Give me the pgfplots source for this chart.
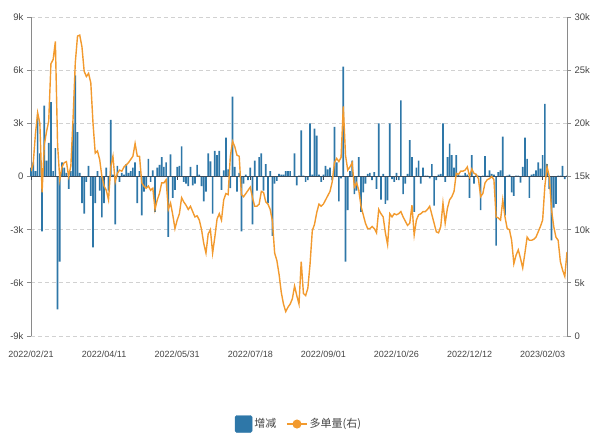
\documentclass[border=0pt]{standalone}
\usepackage{pgfplots}
\pgfplotsset{compat=1.18}
\usepackage{pgfplotstable}
\usepackage{fontspec}
\setmainfont{Liberation Sans}
\newfontfamily\cjk{Noto Sans CJK SC}
\definecolor{barblue}{HTML}{2E77A8}
\definecolor{lineor}{HTML}{F29A2E}
\definecolor{axgray}{HTML}{8A8A8A}
\definecolor{txtgray}{HTML}{444444}
\definecolor{zeroline}{HTML}{3B4A5A}

\pgfplotstableread{
i b l
0 0.5 15.5
1 0.8 16.2
2 0.3 19.0
3 3.5 21.0
4 1.3 20.0
5 -3.1 13.5
6 4.0 18.0
7 0.9 19.2
8 1.9 20.2
9 4.2 25.6
10 0.3 26.0
11 1.6 27.7
12 -7.5 18.0
13 -4.8 14.7
14 0.8 15.9
15 0.5 16.3
16 0.2 16.4
17 -0.7 15.0
18 0.3 16.0
19 3.0 20.5
20 5.7 25.7
21 2.5 28.2
22 0.2 28.3
23 -1.5 27.2
24 -2.1 24.9
25 -0.3 24.4
26 0.6 24.7
27 -1.1 23.8
28 -4.0 20.0
29 -1.5 17.2
30 0.3 17.4
31 -0.8 16.6
32 -2.3 15.0
33 -1.5 14.1
34 0.5 13.7
35 -0.8 12.8
36 3.2 15.9
37 0.1 16.9
38 -2.7 14.5
39 0.6 15.3
40 -0.3 15.6
41 0.2 15.5
42 0.1 15.9
43 0.7 16.1
44 0.2 16.3
45 0.3 16.6
46 0.5 16.9
47 0.8 18.1
48 -1.5 16.9
49 0.3 16.9
50 -2.2 14.4
51 -0.85 14.1
52 -0.6 13.9
53 1.0 14.1
54 -0.3 13.7
55 0.35 13.9
56 -2.0 11.9
57 0.5 12.8
58 0.65 13.4
59 1.1 14.4
60 0.55 14.4
61 0.8 14.7
62 -3.4 11.9
63 1.25 12.5
64 -1.2 11.4
65 -0.75 10.1
66 0.55 10.9
67 0.6 11.5
68 1.7 13.0
69 -0.3 12.6
70 -0.4 12.3
71 -0.55 11.9
72 0.55 12.2
73 -0.5 11.7
74 -0.4 11.2
75 0.65 11.3
76 0.1 10.9
77 -0.55 10.0
78 -1.4 8.7
79 -0.85 7.8
80 1.3 9.6
81 0.85 10.0
82 -2.1 7.8
83 1.45 9.3
84 1.2 11.0
85 1.45 11.5
86 -0.75 10.9
87 0.35 12.8
88 2.2 13.4
89 0.4 13.3
90 -0.65 16.9
91 4.5 18.3
92 0.55 17.8
93 -0.85 17.0
94 0.2 16.9
95 -3.1 13.3
96 -0.4 13.1
97 0.1 13.4
98 -0.2 13.7
99 0.5 14.0
100 -2.7 13.0
101 0.9 12.2
102 -0.8 12.2
103 1.1 12.4
104 1.3 13.6
105 -0.8 13.5
106 0.7 12.6
107 -1.5 12.4
108 0.3 11.9
109 -3.35 10.8
110 -0.4 7.8
111 -0.25 7.1
112 0.15 5.8
113 0.1 4.1
114 0.1 3.0
115 0.3 2.3
116 0.3 2.7
117 0.3 3.0
118 0.0 3.5
119 1.3 4.7
120 -0.5 3.8
121 0.05 3.0
122 2.6 7.0
123 0.05 4.0
124 -0.3 3.8
125 -0.2 4.5
126 3.0 6.8
127 0.1 9.9
128 2.7 10.5
129 2.3 11.6
130 0.1 12.4
131 -0.3 12.2
132 0.1 12.4
133 0.6 12.8
134 0.4 13.2
135 0.5 13.6
136 -0.2 14.5
137 2.8 16.3
138 0.8 16.7
139 -1.4 16.4
140 -0.1 16.8
141 6.2 21.6
142 -4.8 17.0
143 -1.9 15.6
144 0.3 15.9
145 0.9 16.3
146 -1.0 14.0
147 -0.8 14.4
148 1.1 13.7
149 -2.0 12.2
150 -0.9 11.4
151 -0.4 10.6
152 0.15 10.1
153 0.2 10.1
154 -0.2 10.3
155 0.25 10.1
156 -0.7 9.7
157 3.0 11.9
158 -1.3 11.5
159 0.15 11.2
160 -1.55 9.7
161 -1.35 8.6
162 3.0 11.5
163 -0.15 11.2
164 -0.3 11.5
165 0.2 11.4
166 -0.2 11.5
167 4.3 11.7
168 -1.0 11.2
169 -0.4 10.8
170 0.15 10.4
171 2.05 10.6
172 1.1 12.3
173 -2.0 9.5
174 0.5 10.9
175 0.9 11.4
176 -0.4 11.5
177 0.5 11.7
178 0.05 11.7
179 0.05 11.9
180 -0.1 12.2
181 0.7 11.4
182 -1.65 10.6
183 -0.2 9.8
184 0.1 9.7
185 0.15 10.3
186 3.0 12.5
187 -0.3 10.6
188 1.1 12.0
189 1.85 12.8
190 1.2 13.1
191 0.5 13.6
192 1.2 15.3
193 0.1 15.2
194 0.05 15.5
195 0.05 15.5
196 0.2 15.6
197 0.1 15.9
198 -1.2 15.0
199 1.2 15.7
200 -0.4 15.3
201 0.1 15.2
202 0.05 14.8
203 -1.9 13.1
204 0.05 13.4
205 1.15 14.4
206 0.05 14.7
207 0.35 14.8
208 0.15 15.0
209 0.1 14.7
210 -3.9 11.2
211 0.25 11.1
212 0.35 10.9
213 2.25 12.8
214 -2.2 11.2
215 0.05 10.1
216 0.1 10.0
217 -0.9 9.0
218 -1.1 6.8
219 0.05 7.6
220 0.05 8.1
221 -0.35 7.3
222 0.55 6.4
223 2.2 7.8
224 1.0 9.3
225 -1.2 9.0
226 0.1 9.0
227 0.15 9.1
228 0.35 9.3
229 0.8 9.8
230 0.45 10.3
231 1.2 10.9
232 4.1 14.1
233 0.7 15.9
234 -0.7 15.0
235 -3.6 11.9
236 -1.75 10.3
237 -1.55 9.3
238 0.05 9.0
239 0.05 7.0
240 0.6 6.2
241 -0.15 5.6
242 0.05 7.9
}\datatable

\begin{document}
\begin{tikzpicture}[x=1pt,y=1pt]
\useasboundingbox (0,0) rectangle (592,435);
\begin{axis}[
  at={(31pt,99pt)}, anchor=south west, scale only axis,
  width=536pt, height=319pt,
  xmin=0, xmax=242, ymin=-9, ymax=9,
  axis y line*=left, axis x line*=bottom,
  x axis line style={draw=none},
  y axis line style={axgray, line width=0.8pt},
  xtick={0,33,66,99,132,165,198,231},
  xticklabels={2022/02/21,2022/04/11,2022/05/31,2022/07/18,2022/09/01,2022/10/26,2022/12/12,2023/02/03},
  x tick style={draw=none},
  x tick label style={font=\fontsize{9}{10}\selectfont, text=txtgray, yshift=-7pt},
  ytick={-9,-6,-3,0,3,6,9},
  yticklabels={-9k,-6k,-3k,0,3k,6k,9k},
  y tick label style={font=\fontsize{9.5}{10}\selectfont, text=txtgray},
  y tick style={axgray, line width=0.8pt},
  tick align=outside, major tick length=4pt,
  ymajorgrids, grid style={dashed, dash pattern=on 4pt off 3pt, black!18, line width=0.7pt},
  clip=false,
]
\addplot[ybar, bar width=1.7pt, bar shift=0pt, fill=barblue, draw=none] table[x=i,y=b]{\datatable};
\draw[zeroline, line width=0.9pt] (axis cs:0,0) -- (axis cs:242,0);
\pgfplotsinvokeforeach{0,33,66,99,132,165,198,231}{\draw[zeroline, line width=0.8pt] (axis cs:#1,0) -- ++(0pt,-4pt);}
\end{axis}
\begin{axis}[
  at={(31pt,99pt)}, anchor=south west, scale only axis,
  width=536pt, height=319pt,
  xmin=0, xmax=242, ymin=0, ymax=30,
  axis y line*=right, axis x line=none,
  y axis line style={axgray, line width=0.8pt},
  ytick={0,5,10,15,20,25,30},
  yticklabels={0,5k,10k,15k,20k,25k,30k},
  y tick label style={font=\fontsize{9.5}{10}\selectfont, text=txtgray},
  y tick style={axgray, line width=0.8pt},
  tick align=outside, major tick length=4pt,
  legend columns=2,
  legend style={draw=none, fill=none, at={(0.5,-0.276)}, anchor=center,
    font=\cjk\fontsize{11}{12}\selectfont, text=txtgray,
    /tikz/every even column/.append style={column sep=8pt}},
  legend cell align=left,
]
\addlegendimage{legend image code/.code={\fill[barblue, rounded corners=1.5pt] (0pt,-8.5pt) rectangle (17pt,8.5pt);}}
\addlegendentry{增减}
\addplot[lineor, line width=1.4pt, no marks,
  legend image code/.code={\draw[lineor, line width=1.4pt] (0pt,0pt) -- (20pt,0pt); \fill[lineor] (10pt,0pt) circle (3.8pt);}]
  table[x=i,y=l]{\datatable};
\addlegendentry{多单量(右)}
\end{axis}
\end{tikzpicture}
\end{document}
